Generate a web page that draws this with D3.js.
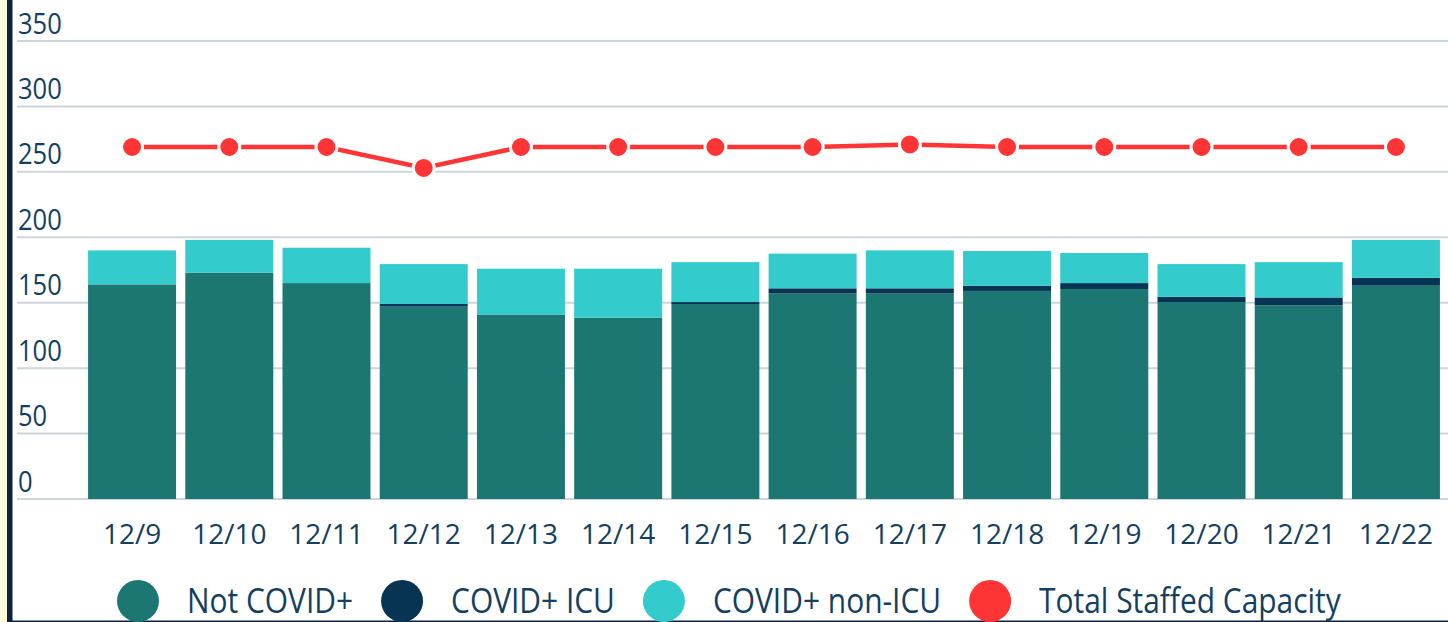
<!DOCTYPE html>
<html>
<head>
<meta charset="utf-8">
<script src="https://cdn.jsdelivr.net/npm/d3@7"></script>
<style>
  html, body { margin: 0; padding: 0; background: #fff; overflow: hidden; }
  svg { display: block; font-family: "Open Sans", sans-serif; }
</style>
</head>
<body>
<svg id="chart" width="1448" height="622"></svg>
<script>
// values
const dates = ["12/9","12/10","12/11","12/12","12/13","12/14","12/15","12/16","12/17","12/18","12/19","12/20","12/21","12/22"];
const notCovid = [164, 173, 165, 147, 141, 138.5, 149, 157, 157, 159, 160.5, 150.5, 148, 163];
const covidIcu = [0, 0, 0, 2, 0, 0, 1.5, 4, 4, 4, 4.5, 4, 6, 6];
const covidNonIcu = [26, 25, 27, 30.5, 35, 37.5, 30.5, 26.5, 29, 26.5, 23, 25, 27, 29];
const capacity = [269, 269, 269, 253, 269, 269, 269, 269, 271, 269, 269, 269, 269, 269];
const yTicks = [0, 50, 100, 150, 200, 250, 300, 350];
const seriesNames = ["Not COVID+", "COVID+ ICU", "COVID+ non-ICU", "Total Staffed Capacity"];

const colors = {
  "Not COVID+": "#1c7773",
  "COVID+ ICU": "#073452",
  "COVID+ non-ICU": "#33cbcc",
  "Total Staffed Capacity": "#ff3535"
};
const textColor = "#143f60";
const squeeze = 0.88;

const svg = d3.select("#chart");
const W = 1448, H = 622;

// page frame: cream strip, navy rule on the left, navy rule at the bottom
svg.append("rect").attr("x", 0).attr("y", 0).attr("width", 7).attr("height", H).attr("fill", "#fffbdc");
svg.append("rect").attr("x", 7).attr("y", 0).attr("width", 5.5).attr("height", H).attr("fill", "#0b2341");
svg.append("rect").attr("x", 12).attr("y", 620.5).attr("width", W - 12).attr("height", 1.5).attr("fill", "#0b2341");

const x = d3.scaleBand()
  .domain(dates)
  .range([83.5, 1444.5])
  .paddingInner(0.095)
  .paddingOuter(0.047);

const y = d3.scaleLinear()
  .domain([0, 350])
  .range([499, 41]);

// gridlines + y labels
const grid = svg.append("g");
grid.selectAll("line")
  .data(yTicks)
  .join("line")
  .attr("x1", 17).attr("x2", W)
  .attr("y1", d => y(d)).attr("y2", d => y(d))
  .attr("stroke", "#cdd5dc")
  .attr("stroke-width", 2);

grid.selectAll("text")
  .data(yTicks)
  .join("text")
  .attr("transform", d => `translate(18,${y(d) - 7.5}) scale(${squeeze},1)`)
  .attr("fill", textColor)
  .attr("font-size", 29)
  .text(d => d);

// stacked bars
const rows = dates.map((d, i) => ({
  date: d,
  "Not COVID+": notCovid[i],
  "COVID+ ICU": covidIcu[i],
  "COVID+ non-ICU": covidNonIcu[i]
}));
const stack = d3.stack().keys(seriesNames.slice(0, 3))(rows);

svg.append("g")
  .selectAll("g")
  .data(stack)
  .join("g")
  .attr("fill", d => colors[d.key])
  .selectAll("rect")
  .data(d => d)
  .join("rect")
  .attr("x", d => x(d.data.date))
  .attr("width", x.bandwidth())
  .attr("y", d => y(d[1]))
  .attr("height", d => y(d[0]) - y(d[1]));

// x axis labels
const xAxis = d3.axisBottom(x).tickSize(0).tickPadding(0);
const gx = svg.append("g")
  .attr("transform", "translate(0,524)")
  .call(xAxis);
gx.select(".domain").remove();
gx.selectAll("text")
  .attr("fill", textColor)
  .attr("font-size", 28)
  .attr("font-family", "Open Sans, sans-serif")
  .attr("dy", "0.71em");

// capacity line
const line = d3.line()
  .x((d, i) => x(dates[i]) + x.bandwidth() / 2)
  .y(d => y(d));

svg.append("path")
  .datum(capacity)
  .attr("fill", "none")
  .attr("stroke", colors["Total Staffed Capacity"])
  .attr("stroke-width", 4.5)
  .attr("d", line);

svg.append("g")
  .selectAll("circle")
  .data(capacity)
  .join("circle")
  .attr("cx", (d, i) => x(dates[i]) + x.bandwidth() / 2)
  .attr("cy", d => y(d))
  .attr("r", 10.5)
  .attr("fill", colors["Total Staffed Capacity"])
  .attr("stroke", "#fff")
  .attr("stroke-width", 3);

// legend
const legend = svg.append("g").attr("transform", "translate(0,601)");
let lx = 117;
seriesNames.forEach(name => {
  legend.append("circle")
    .attr("cx", lx + 21)
    .attr("cy", 0)
    .attr("r", 21)
    .attr("fill", colors[name]);
  const t = legend.append("text")
    .attr("transform", `translate(${lx + 70},12) scale(${squeeze},1)`)
    .attr("fill", textColor)
    .attr("font-size", 34)
    .text(name);
  const w = t.node().getComputedTextLength() * squeeze;
  lx = lx + 70 + w + 28;
});
</script>
</body>
</html>
